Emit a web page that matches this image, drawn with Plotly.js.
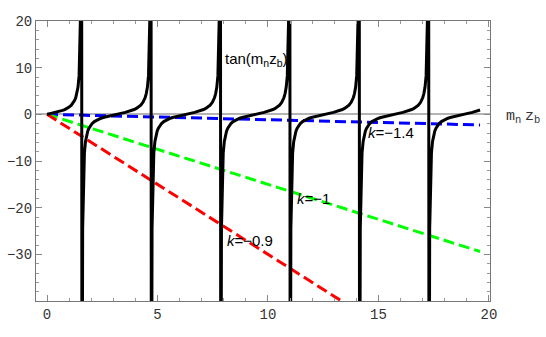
<!DOCTYPE html>
<html>
<head>
<meta charset="utf-8">
<script src="https://cdn.plot.ly/plotly-3.0.1.min.js"></script>
<style>html,body{margin:0;padding:0;background:#fff;}</style>
</head>
<body>
<div id="chart" style="width:546px;height:337px;"></div>
<script>
// tan curve: shape of one branch (offset from branch centre)
const tanOffsets = [-1.56,-1.53,-1.5,-1.45,-1.4,-1.35,-1.3,-1.25,-1.2,-1.1,-1.0,-0.9,-0.8,-0.7,-0.6,-0.4,-0.2,0,0.2,0.4,0.6,0.7,0.8,0.9,1.0,1.1,1.2,1.25,1.3,1.35,1.4,1.45,1.5,1.53,1.56];
const tanValues = [-92.62,-24.50,-14.10,-8.238,-5.798,-4.455,-3.602,-3.010,-2.572,-1.965,-1.557,-1.260,-1.030,-0.842,-0.684,-0.423,-0.203,0,0.203,0.423,0.684,0.842,1.030,1.260,1.557,1.965,2.572,3.010,3.602,4.455,5.798,8.238,14.10,24.50,92.62];
const branchCenters = [0, 3.1416, 6.2832, 9.4248, 12.5664, 15.7080, 18.8496];
const curveStart = 0;
const curveEndX = 19.6;
const curveEndY = 0.932;

// straight dashed lines
const lineNames = ['k=-1.4', 'k=-1', 'k=-0.9'];
const lineX = [[0, 19.6], [0, 19.6], [0, 13.33]];
const lineY = [[0, -2.27], [0, -29.4], [0, -40]];
const lineColors = ['#0000ff', '#00ff00', '#ff0000'];

// labels
const labelTexts = ['<i>k</i>=\u22121.4', '<i>k</i>=\u22121', '<i>k</i>=\u22120.9'];
const labelX = [15.56, 12.08, 9.20];
const labelY = [-3.98, -18.05, -27.0];

const xTicks = [0, 5, 10, 15, 20];
const yTicks = [-30, -20, -10, 0, 10, 20];
const yTickText = ['\u221230', '\u221220', '\u221210', '0', '10', '20'];

// build tan curve
const tx = [], ty = [];
branchCenters.forEach(c => {
  tanOffsets.forEach((o, i) => {
    const x = c + o;
    if (x >= curveStart && x <= curveEndX) { tx.push(x); ty.push(tanValues[i]); }
  });
});
tx.push(curveEndX); ty.push(curveEndY);

const traces = [];
lineNames.forEach((n, i) => {
  traces.push({
    x: lineX[i], y: lineY[i], mode: 'lines', name: n,
    line: {color: lineColors[i], width: 3, dash: '11px,5px'},
    hoverinfo: 'skip'
  });
});
traces.push({
  x: tx, y: ty, mode: 'lines', name: 'tan',
  line: {color: '#000', width: 3},
  hoverinfo: 'skip'
});

const tickFont = {family: 'Liberation Mono, Courier New, monospace', size: 14, color: '#333'};
const sansFont = {family: 'Liberation Sans, Arial, sans-serif', size: 15, color: '#000'};
const annotations = labelTexts.map((t, i) => ({
  x: labelX[i], y: labelY[i], xref: 'x', yref: 'y', text: t, showarrow: false,
  font: sansFont, xanchor: 'center', yanchor: 'middle'
}));
annotations.push({
  x: 9.49, y: 11.7, xref: 'x', yref: 'y', text: 'tan(m<sub>n</sub>z<sub>b</sub>)', showarrow: false,
  font: sansFont, xanchor: 'center', yanchor: 'middle'
});
annotations.push({
  x: 1.0727, y: -0.6, xref: 'paper', yref: 'y',
  text: 'm<sub>n</sub><span style="font-size:6px"> </span>z<sub>b</sub>', showarrow: false,
  font: {family: 'Liberation Mono, Courier New, monospace', size: 15, color: '#333'},
  xanchor: 'center', yanchor: 'middle'
});

const layout = {
  width: 546, height: 337,
  margin: {l: 36, r: 56, t: 21, b: 36, pad: 0},
  paper_bgcolor: '#fff', plot_bgcolor: '#fff',
  showlegend: false,
  xaxis: {
    range: [-0.5, 20.05], showgrid: false, zeroline: false,
    showline: true, linecolor: '#777', linewidth: 1, mirror: 'allticks',
    ticks: 'inside', ticklen: 6, tickcolor: '#888', tickwidth: 1,
    tickvals: xTicks, ticktext: xTicks.map(String), tickfont: tickFont,
    minor: {dtick: 1, tick0: 0, ticks: 'inside', ticklen: 3, tickcolor: '#999', showgrid: false}
  },
  yaxis: {
    range: [-40, 20], showgrid: false,
    zeroline: true, zerolinecolor: '#b4b4b4', zerolinewidth: 2,
    showline: true, linecolor: '#777', linewidth: 1, mirror: 'allticks',
    ticks: 'inside', ticklen: 6, tickcolor: '#888', tickwidth: 1,
    tickvals: yTicks, ticktext: yTickText, tickfont: tickFont,
    minor: {dtick: 2, tick0: 0, ticks: 'inside', ticklen: 3, tickcolor: '#999', showgrid: false}
  },
  annotations: annotations
};

Plotly.newPlot('chart', traces, layout, {staticPlot: true, displayModeBar: false});
</script>
</body>
</html>
